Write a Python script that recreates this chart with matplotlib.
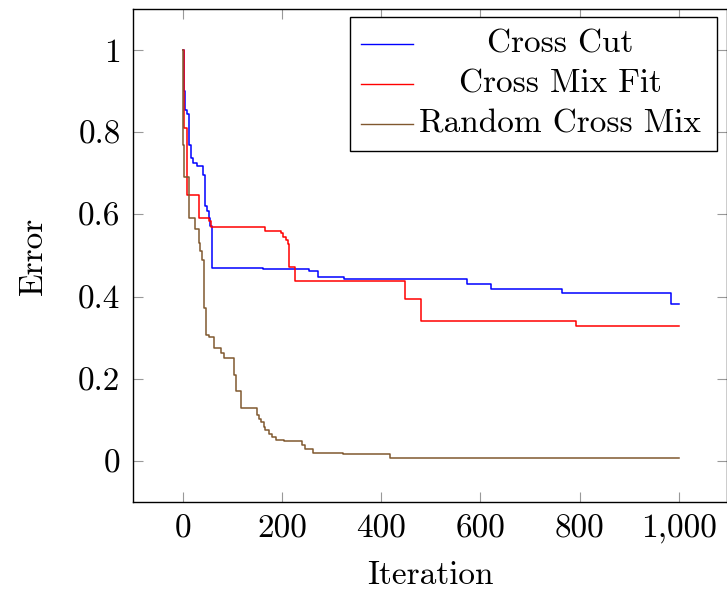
import matplotlib
matplotlib.use("Agg")
import matplotlib.pyplot as plt
from matplotlib.patches import Rectangle

plt.rcParams['font.family'] = ['cmr10', 'DejaVu Serif']
plt.rcParams['axes.formatter.use_mathtext'] = True

# ---- data (step functions: change points) ----
cut_x = [0, 2, 5, 9, 13, 16, 21, 28, 41, 46, 49, 53, 56, 59, 161, 255, 272, 326, 573, 621, 765, 984, 1000]
cut_y = [1.0, 0.90, 0.853, 0.845, 0.769, 0.737, 0.725, 0.717, 0.696, 0.62, 0.608, 0.592, 0.572, 0.470,
         0.466, 0.463, 0.447, 0.443, 0.431, 0.418, 0.409, 0.382, 0.382]

fit_x = [0, 2, 9, 33, 53, 57, 167, 199, 202, 209, 212, 214, 227, 448, 481, 793, 1000]
fit_y = [1.0, 0.81, 0.648, 0.592, 0.585, 0.570, 0.560, 0.554, 0.546, 0.537, 0.528, 0.472, 0.438,
         0.393, 0.340, 0.329, 0.329]

rnd_x = [0, 1, 3, 13, 24, 33, 36, 39, 43, 48, 54, 64, 78, 84, 104, 107, 117, 150, 153, 157, 164, 167,
         175, 180, 188, 205, 241, 246, 262, 323, 417, 454, 1000]
rnd_y = [1.0, 0.77, 0.69, 0.592, 0.564, 0.53, 0.51, 0.49, 0.372, 0.307, 0.302, 0.275, 0.262, 0.25,
         0.21, 0.17, 0.128, 0.112, 0.103, 0.094, 0.082, 0.075, 0.066, 0.058, 0.051, 0.049, 0.039,
         0.029, 0.020, 0.016, 0.008, 0.006, 0.006]

labels = ["Cross Cut", "Cross Mix Fit", "Random Cross Mix"]
colors = ['#0000ff', '#ff0000', '#80582f']
x_ticks = [0, 200, 400, 600, 800, 1000]
x_tick_labels = ["0", "200", "400", "600", "800", "1,000"]
y_ticks = [0, 0.2, 0.4, 0.6, 0.8, 1.0]
y_tick_labels = ["0", "0.2", "0.4", "0.6", "0.8", "1"]

fig = plt.figure(figsize=(7.27, 5.90), dpi=100)
ax = fig.add_axes([133/727, 88/590, 594/727, 493/590])

for xs, ys, c, lab in zip([cut_x, fit_x, rnd_x], [cut_y, fit_y, rnd_y], colors, labels):
    ax.plot(xs, ys, drawstyle='steps-post', color=c, lw=1.1, label=lab)

ax.set_xlim(-100, 1097)
ax.set_ylim(-0.1, 1.1)
ax.set_xticks(x_ticks)
ax.set_xticklabels(x_tick_labels)
ax.set_yticks(y_ticks)
ax.set_yticklabels(y_tick_labels)
ax.tick_params(direction='in', length=7, width=0.8, color='0.6', labelsize=24,
               top=True, right=True, pad=9)
for s in ax.spines.values():
    s.set_linewidth(1.0)
    s.set_color('black')

ax.set_xlabel("Iteration", fontsize=24, labelpad=12)
ax.set_ylabel("Error", fontsize=24, labelpad=22)

# legend (pgfplots style: centred entries)
ax.add_patch(Rectangle((0.3653, 0.712), 0.6177, 0.2718, transform=ax.transAxes,
                       facecolor='white', edgecolor='black', lw=1.0, zorder=5))
line_y = [0.9284, 0.8473, 0.7661]
base_y = [0.9114, 0.8316, 0.7485]
for c, lab, ly, by in zip(colors, labels, line_y, base_y):
    ax.plot([0.3833, 0.4709], [ly, ly], transform=ax.transAxes, color=c, lw=1.0,
            zorder=6, clip_on=False)
    ax.text(0.7189, by, lab, transform=ax.transAxes, ha='center', va='baseline',
            fontsize=24, zorder=6)

fig.savefig("out.png", dpi=100)
